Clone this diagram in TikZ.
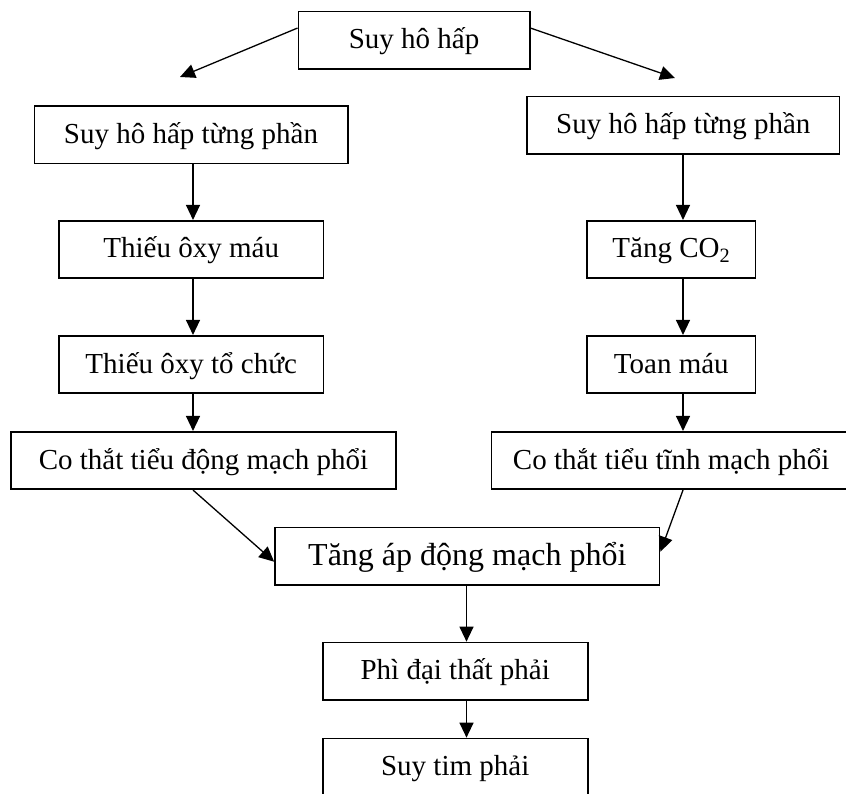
\documentclass[tikz,border=0pt]{standalone}
\usepackage{fontspec}
\setmainfont{Liberation Serif}
\usetikzlibrary{arrows.meta}

\begin{document}
\begin{tikzpicture}[x=1pt, y=-1pt, line width=1.2pt,
  khung/.style={draw, line width=1.6pt, inner sep=0pt, minimum height=57.5pt,
    text height=22pt, text depth=5pt, font=\fontsize{29}{34}\selectfont},
  khunglon/.style={khung, text height=24pt, text depth=6pt, font=\fontsize{32}{38}\selectfont},
  mui/.style={-{Triangle[length=15pt, width=14pt]}, line width=1.3pt}]

  %% ════ 三条竖线所在的列 ════
  \coordinate (cotTrai) at (193.0,0);
  \coordinate (cotPhai) at (683.0,0);
  \coordinate (cotGiua) at (466.5,0);
  \coordinate (dinhTrai) at (180.0,77.0);
  \coordinate (dinhPhai) at (675.0,78.0);

  %% ════ 方框 ════
  \node[khung, minimum width=231.4pt] (goc) at (414.0,40.3) {Suy hô hấp};

  \node[khung, minimum width=313.4pt] (trai1) at (191.0,134.7) {Suy hô hấp từng phần};
  \node[khung, minimum width=264.3pt] (trai2) at (191.2,249.5) {Thiếu ôxy máu};
  \node[khung, minimum width=264.3pt] (trai3) at (191.2,364.5) {Thiếu ôxy tổ chức};
  \node[khung, minimum width=385.0pt] (trai4) at (203.5,460.5) {Co thắt tiểu động mạch phổi};

  \node[khung, minimum width=312.7pt] (phai1) at (683.3,125.3) {Suy hô hấp từng phần};
  \node[khung, minimum width=168.7pt] (phai2) at (671.3,249.5) {Tăng CO\textsubscript{2}};
  \node[khung, minimum width=168.7pt] (phai3) at (671.3,364.5) {Toan máu};
  \node[khung, minimum width=359.7pt] (phai4) at (671.2,460.5) {Co thắt tiểu tĩnh mạch phổi};

  \node[khunglon, minimum width=384.7pt] (giua1) at (467.3,556.2) {Tăng áp động mạch phổi};
  \node[khung, minimum width=265.0pt] (giua2) at (455.2,671.2) {Phì đại thất phải};
  \node[khung, minimum width=265.0pt] (giua3) at (455.2,767.2) {Suy tim phải};

  %% ════ 箭头 ════
  \draw[mui] (goc.174) -- (dinhTrai);
  \draw[mui] (goc.6) -- (dinhPhai);

  \draw[mui] (trai1.south -| cotTrai) -- (trai2.north -| cotTrai);
  \draw[mui] (trai2.south -| cotTrai) -- (trai3.north -| cotTrai);
  \draw[mui] (trai3.south -| cotTrai) -- (trai4.north -| cotTrai);

  \draw[mui] (phai1.south -| cotPhai) -- (phai2.north -| cotPhai);
  \draw[mui] (phai2.south -| cotPhai) -- (phai3.north -| cotPhai);
  \draw[mui] (phai3.south -| cotPhai) -- (phai4.north -| cotPhai);

  \draw[mui] (trai4.south -| cotTrai) -- ([yshift=-5.5pt]giua1.west);
  \draw[mui] (phai4.south -| cotPhai) -- ([yshift=4.5pt]giua1.east);

  \draw[mui] (giua1.south -| cotGiua) -- (giua2.north -| cotGiua);
  \draw[mui] (giua2.south -| cotGiua) -- (giua3.north -| cotGiua);

  % 钉死画布：右侧和底部的框被裁掉一部分
  \pgfresetboundingbox
  \path[use as bounding box] (0,0) rectangle (846,794);
\end{tikzpicture}
\end{document}
